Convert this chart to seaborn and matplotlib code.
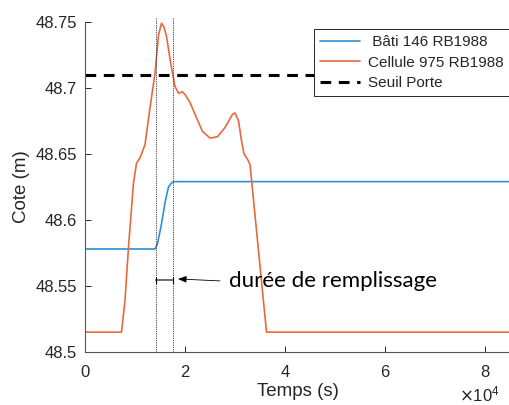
import numpy as np
import pandas as pd
import seaborn as sns
import matplotlib.pyplot as plt

# time (s) and water level (m)
t_bati = [0, 14000, 14500, 15300, 16000, 16700, 17300, 17700, 85000]
z_bati = [48.578, 48.578, 48.582, 48.597, 48.613, 48.625, 48.628, 48.629, 48.629]

t_cellule = [0, 7300, 8000, 8670, 9700, 10300, 11000, 12000, 13000, 14000,
             14700, 15300, 15800, 16300, 17000, 17500, 18000, 18700, 19500,
             20000, 21000, 22000, 23500, 25000, 26500, 28000, 29500, 30000,
             30700, 31300, 31800, 32500, 33000, 36300, 85000]
z_cellule = [48.515, 48.515, 48.539, 48.578, 48.628, 48.643, 48.647, 48.657,
             48.685, 48.711, 48.740, 48.749, 48.746, 48.739, 48.722, 48.711,
             48.701, 48.696, 48.697, 48.695, 48.689, 48.680, 48.667, 48.662,
             48.663, 48.670, 48.680, 48.681, 48.675, 48.660, 48.650, 48.646,
             48.642, 48.515, 48.515]

seuil_porte = 48.71
t_debut, t_fin = 14100, 17500  # durée de remplissage

labels = [' Bâti 146 RB1988', 'Cellule 975 RB1988', 'Seuil Porte']

sns.set_style("white")
plt.rcParams['font.family'] = ['Liberation Sans', 'DejaVu Sans']

fig = plt.figure(figsize=(5.09, 4.05), dpi=100)
ax = fig.add_axes([0.167, 0.131, 0.835, 0.815])

gris = '#262626'
sns.lineplot(x=t_bati, y=z_bati, color='#3090d6', linewidth=1.2, label=labels[0], ax=ax)
sns.lineplot(x=t_cellule, y=z_cellule, color='#e8693a', linewidth=1.2, label=labels[1], ax=ax)
ax.axhline(seuil_porte, color='black', linewidth=2.2, linestyle=(0, (3.5, 2.5)), label=labels[2])

for t in (t_debut, t_fin):
    ax.axvline(t, ymin=0, ymax=1.012, color='#333333', linewidth=0.6,
               linestyle=(0, (1.5, 1.2)), clip_on=False)

# bracket and annotation
ax.annotate('', xy=(t_debut, 48.5545), xytext=(t_fin, 48.5545),
            arrowprops=dict(arrowstyle='|-|, widthA=0.2, widthB=0.2',
                            color='black', lw=0.8, shrinkA=0, shrinkB=0))
ax.annotate('', xy=(18600, 48.5553), xytext=(27000, 48.5538),
            arrowprops=dict(arrowstyle='-|>, head_length=0.5, head_width=0.2',
                            color='black', lw=0.6, shrinkA=0, shrinkB=0))
ax.text(28800, 48.5535, 'durée de remplissage', family=['Lato', 'DejaVu Sans'],
        fontsize=16, color='black', va='center', ha='left')

ax.set_xlim(0, 85000)
ax.set_ylim(48.5, 48.75)
ax.set_xticks([0, 20000, 40000, 60000, 80000])
ax.set_yticks([48.5, 48.55, 48.6, 48.65, 48.7, 48.75])
ax.set_yticklabels(['48.5', '48.55', '48.6', '48.65', '48.7', '48.75'])
ax.ticklabel_format(axis='x', style='sci', scilimits=(4, 4), useMathText=True)
off = ax.xaxis.get_offset_text()
off.set_fontsize(12)
off.set_color(gris)
off.set_x(0.975)

ax.tick_params(direction='in', length=4, width=0.7, colors=gris, labelsize=12,
               top=False, right=False, bottom=True, left=True)
ax.tick_params(axis='x', pad=9)
ax.tick_params(axis='y', pad=6)
for s in ('top', 'right'):
    ax.spines[s].set_visible(False)
for s in ('left', 'bottom'):
    ax.spines[s].set_color('#555555')
    ax.spines[s].set_linewidth(0.8)

ax.set_xlabel('Temps (s)', fontsize=13.5, color=gris, labelpad=2)
ax.set_ylabel('Cote (m)', fontsize=13.5, color=gris, labelpad=4)

leg = ax.legend(loc='upper left', bbox_to_anchor=(0.539, 0.978), fontsize=11,
                frameon=True, fancybox=False, edgecolor='#262626', framealpha=1,
                handlelength=2.6, handletextpad=0.5, borderpad=0.4,
                labelspacing=0.42, borderaxespad=0)
leg.get_frame().set_linewidth(0.7)
for txt in leg.get_texts():
    txt.set_color(gris)

fig.savefig('out.png', dpi=100)
